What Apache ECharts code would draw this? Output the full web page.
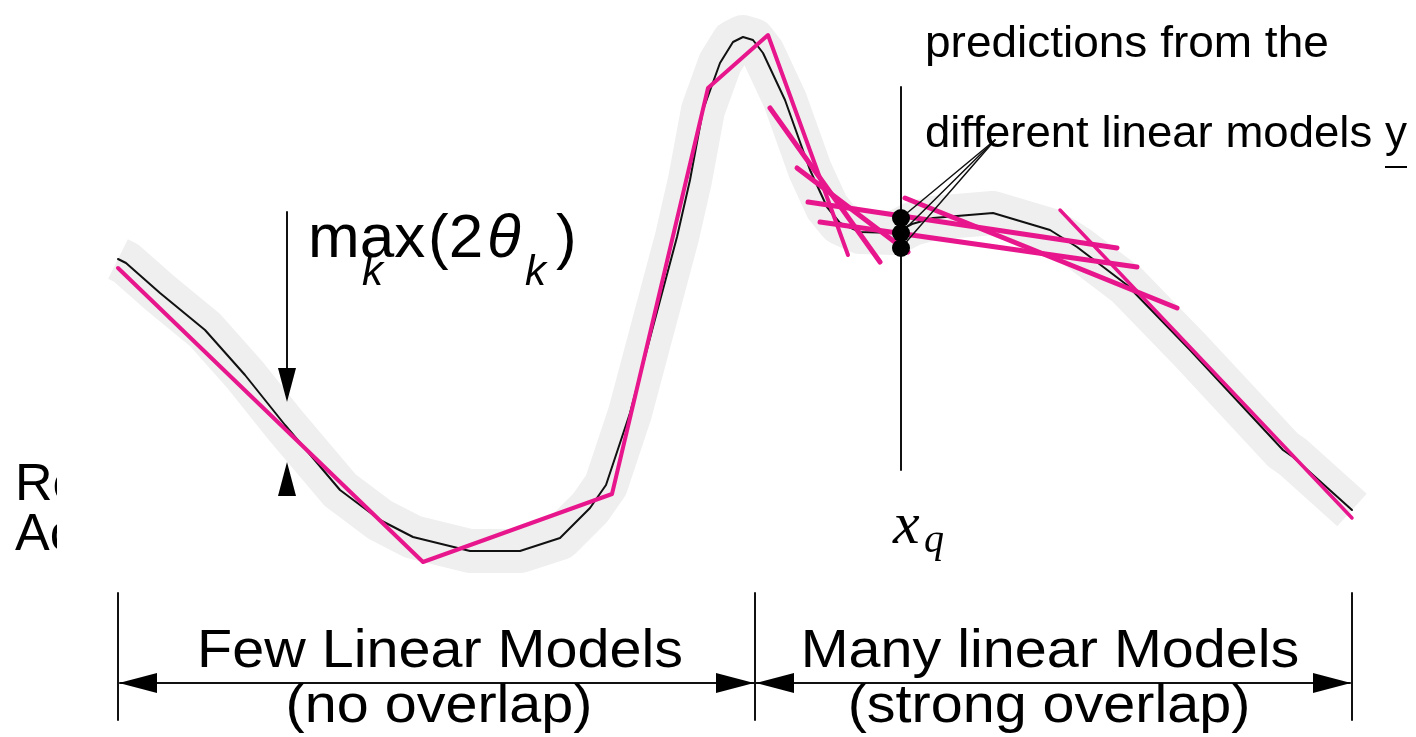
<!DOCTYPE html>
<html>
<head>
<meta charset="utf-8">
<script src="https://cdn.jsdelivr.net/npm/echarts/dist/echarts.min.js"></script>
<style>
  html, body { margin: 0; background: #fff; }
  #chart { width: 1416px; height: 737px; }
</style>
</head>
<body>
<div id="chart"></div>
<script>
// everything lives on a 1416 x 737 scale, y grows downwards
const truthCurve = [[118,259],[126,263],[160,293],[205,330],[245,375],[285,425],[340,490],[380,520],[413,537],[470,551],[520,551],[560,538],[590,508],[606,485],[630,413],[650,338],[677,237],[690,180],[703,110],[720,63],[733,42],[743,37],[753,40],[763,53],[785,100],[810,170],[827,207],[840,223],[860,232],[895,233],[912,224],[933,218],[993,213],[1050,230],[1077,247],[1127,285],[1190,350],[1283,450],[1293,457],[1352,510]]
const fewModels = [[118,268],[423,562],[612,494],[708,88],[768,35],[848,255]]
const manyModels = [
  [[770,108],[880,262]],
  [[797,168],[908,252]],
  [[808,202],[1117,248]],
  [[820,222],[1137,267]],
  [[905,198],[1177,308]]
]
const lastModel = [[1060,210],[1352,518]]
const queryX = 901
const queryPreds = [218, 233, 248]
const calloutPoint = [995, 140]
const queryLine = [[901,87],[901,470]]
const thetaLine = [[287,212],[287,372]]
const thetaHeads = [[287,385,180],[287,479,0]]
const rangeBars = [118, 755, 1352]
const rangeLine = [[120,683],[1350,683]]
const rangeHeads = [[138,683,90],[735,683,-90],[775,683,90],[1332,683,-90]]

const pink = '#e8168c'

function seg (points, color, width, z) {
  return {
    type: 'line', data: points, symbol: 'none', silent: true, z: z,
    lineStyle: {color: color, width: width, cap: 'round', join: 'round'}
  }
}

const series = []
series.push({
  type: 'line', data: truthCurve, symbol: 'none', silent: true, z: 1,
  lineStyle: {color: '#efefef', width: 44, cap: 'butt', join: 'round'}
})
series.push(seg(truthCurve, '#111', 2, 3))
series.push(seg(fewModels, pink, 4, 4))
manyModels.forEach(m => series.push(seg(m, pink, 5, 4)))
series.push(seg(lastModel, pink, 3.5, 4))
series.push(seg(queryLine, '#111', 2, 5))
queryPreds.forEach(y => series.push(seg([[queryX, y], calloutPoint], '#111', 1.5, 5)))
series.push({
  type: 'scatter', symbol: 'circle', symbolSize: 18, silent: true, z: 6,
  itemStyle: {color: '#000', opacity: 1},
  data: queryPreds.map(y => [queryX, y])
})
series.push(seg(thetaLine, '#111', 2, 5))
rangeBars.forEach(x => series.push(seg([[x, 593], [x, 720]], '#111', 2, 5)))
series.push(seg(rangeLine, '#111', 2, 5))
series.push({
  type: 'scatter', symbol: 'triangle', symbolSize: [18, 34], silent: true, z: 6,
  itemStyle: {color: '#000', opacity: 1},
  data: thetaHeads.map(a => ({value: [a[0], a[1]], symbolRotate: a[2]}))
})
series.push({
  type: 'scatter', symbol: 'triangle', symbolSize: [20, 38], silent: true, z: 6,
  itemStyle: {color: '#000', opacity: 1},
  data: rangeHeads.map(a => ({value: [a[0], a[1]], symbolRotate: a[2]}))
})

const sans = 'Liberation Sans, Arial, Helvetica, sans-serif'
const serif = 'Liberation Serif, Times New Roman, serif'
function txt (text, x, y, size, extra, sx) {
  return {
    type: 'text', x: x, y: y, z: 10, silent: true, scaleX: sx || 1,
    style: Object.assign({
      text: text, fill: '#000', fontSize: size, fontFamily: sans,
      textAlign: 'left', textVerticalAlign: 'middle'
    }, extra || {})
  }
}

const option = {
  animation: false,
  grid: {left: 0, right: 0, top: 0, bottom: 0},
  xAxis: {type: 'value', min: 0, max: 1416, show: false},
  yAxis: {type: 'value', min: 0, max: 737, inverse: true, show: false},
  series: series,
  graphic: [
    txt('max', 308, 240, 62),
    txt('k', 362, 273, 42, {fontStyle: 'italic'}),
    txt('(2', 428, 240, 62),
    txt('θ', 487, 240, 62, {fontStyle: 'italic'}),
    txt('k', 525, 273, 42, {fontStyle: 'italic'}),
    txt(')', 556, 240, 62),
    txt('predictions from the', 925, 45, 44, null, 1.045),
    txt('different linear models', 925, 135, 44, null, 1.035),
    txt('y', 1385, 135, 44),
    {type: 'rect', shape: {x: 1385, y: 166, width: 22, height: 2}, style: {fill: '#000'}, z: 10},
    txt('x', 893, 527, 60, {fontStyle: 'italic', fontFamily: serif}),
    txt('q', 924, 541, 40, {fontStyle: 'italic', fontFamily: serif}),
    txt('Few Linear Models', 440, 652, 53, {textAlign: 'center'}, 1.085),
    txt('(no overlap)', 439, 707, 53, {textAlign: 'center'}, 1.085),
    txt('Many linear Models', 1050, 652, 53, {textAlign: 'center'}, 1.085),
    txt('(strong overlap)', 1049, 707, 53, {textAlign: 'center'}, 1.085),
    txt('Re', 15, 486, 52),
    txt('Ac', 15, 536, 52),
    {type: 'rect', shape: {x: 57, y: 440, width: 55, height: 140}, style: {fill: '#fff'}, z: 11}
  ]
}

const myChart = echarts.init(document.getElementById('chart'))
myChart.setOption(option)
</script>
</body>
</html>
